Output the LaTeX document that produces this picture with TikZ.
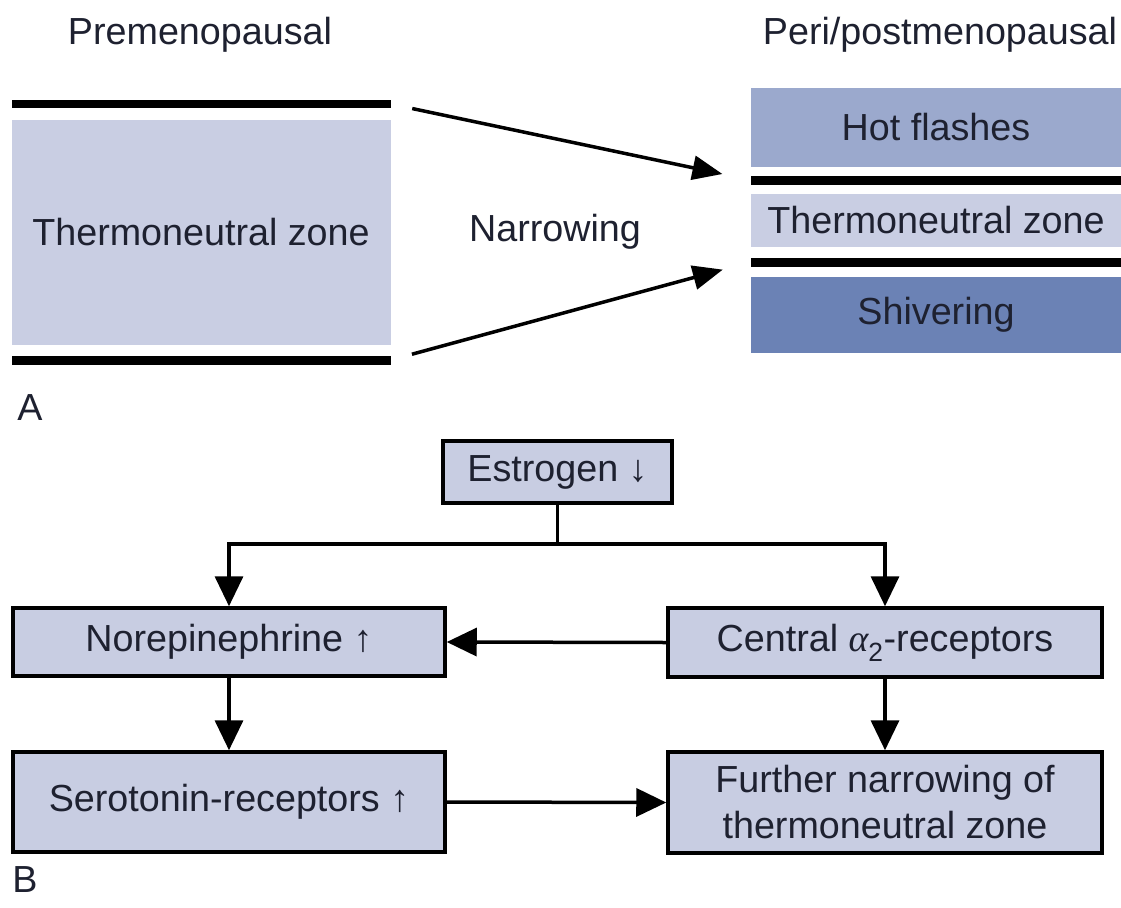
\documentclass[tikz,border=0pt]{standalone}
\usepackage{fontspec}
\setmainfont{Liberation Sans}
\newfontfamily\greekfont{Liberation Serif}
\usetikzlibrary{arrows.meta}

\definecolor{zonelight}{HTML}{C9CEE3}
\definecolor{hotblue}{HTML}{9BA9CD}
\definecolor{shivblue}{HTML}{6B82B5}
\definecolor{boxfill}{HTML}{C8CDE2}
\definecolor{inktext}{HTML}{1E2130}

\tikzset{
  label/.style={font=\fontsize{37.7}{46}\selectfont, text=inktext, inner sep=0pt},
  band/.style={rectangle, inner sep=0pt, draw=none},
  bar/.style={band, fill=black},
  flowbox/.style={label, rectangle, draw=black, line width=3.5pt, fill=boxfill, align=center},
  narrow/.style={line width=3.5pt, -{Triangle[length=30pt,width=24pt]}},
  flow/.style={line width=3.5pt, -{Triangle[length=30pt,width=28pt]}}
}

\begin{document}
\begin{tikzpicture}[x=1pt,y=-1pt]
  \useasboundingbox (0,0) rectangle (1121,907);

  % A: zone before
  \node[label] (pre) at (200,35) {Premenopausal};
  \node[bar, minimum width=379, minimum height=8] (ltop) at (201,104) {};
  \node[band, fill=zonelight, minimum width=379, minimum height=225] (lzone) at (201,232.5) {};
  \node[label] at (lzone) {Thermoneutral zone};
  \node[bar, minimum width=379, minimum height=9] (lbot) at (201,360) {};

  % A: zone after
  \node[label] (post) at (940,35) {Peri/postmenopausal};
  \node[band, fill=hotblue, minimum width=370, minimum height=79] (hot) at (936,127.5) {};
  \node[label] at (hot) {Hot flashes};
  \node[bar, minimum width=370, minimum height=9] (rtop) at (936,180) {};
  \node[band, fill=zonelight, minimum width=370, minimum height=53] (rzone) at (936,220.5) {};
  \node[label] at (rzone) {Thermoneutral zone};
  \node[bar, minimum width=370, minimum height=9] (rbot) at (936,262) {};
  \node[band, fill=shivblue, minimum width=370, minimum height=76] (shiv) at (936,315) {};
  \node[label] at (shiv) {Shivering};

  \node[label] (narrowing) at (555,232) {Narrowing};
  \draw[narrow, shorten <=22pt, shorten >=29pt] (ltop.east) -- (rtop.west);
  \draw[narrow, shorten <=22pt, shorten >=29pt] (lbot.east) -- (rbot.west);

  \node[label] (pa) at (30,408) {A};

  % B: flow chart
  \node[flowbox, minimum width=229, minimum height=62] (estr) at (557.5,472) {Estrogen ↓};
  \node[flowbox, minimum width=432, minimum height=68] (nor) at (229,642) {Norepinephrine ↑};
  \node[flowbox, minimum width=434, minimum height=69] (cen) at (885,642.5)
    {Central {\greekfont\itshape α}\textsubscript{2}-receptors};
  \node[flowbox, minimum width=432, minimum height=100] (ser) at (229,802) {Serotonin-receptors ↑};
  \node[flowbox, minimum width=434, minimum height=101] (fur) at (885,802.5) {Further narrowing of\\thermoneutral zone};

  \coordinate (split) at ([yshift=-39pt]estr.south);
  \draw[line width=3.5pt] (estr.south) -- (split);
  \draw[flow] (split) -| (nor.north);
  \draw[flow] (split) -| (cen.north);
  \draw[flow] (cen.west) -- (nor.east);
  \draw[flow] (nor.south) -- (ser.north);
  \draw[flow] (cen.south) -- (fur.north);
  \draw[flow] (ser.east) -- (fur.west);

  \node[label] (pb) at (25,880) {B};
\end{tikzpicture}
\end{document}
